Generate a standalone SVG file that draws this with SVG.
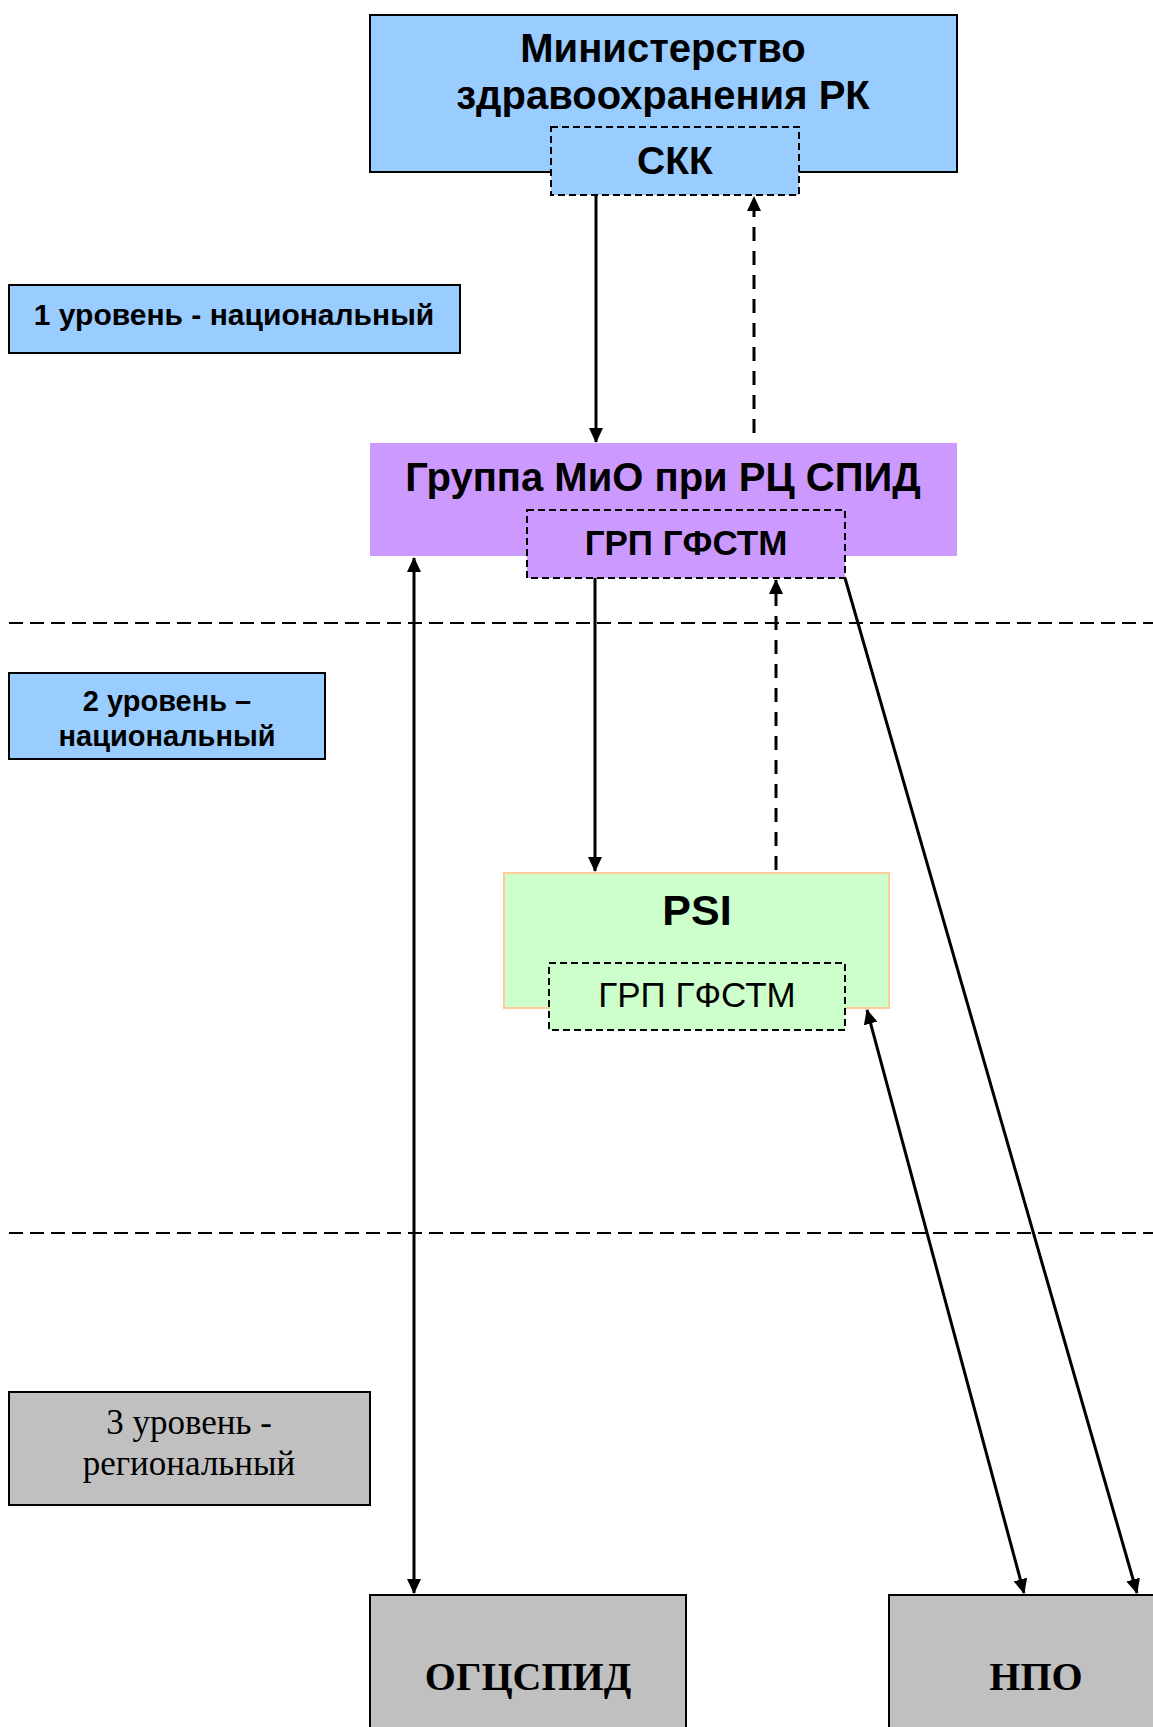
<svg xmlns="http://www.w3.org/2000/svg" width="1153" height="1727" viewBox="0 0 1153 1727">
<style>
.sans{font-family:"Liberation Sans",Arial,sans-serif;fill:#000;text-anchor:middle}
.b{font-weight:bold}
.serif{font-family:"Liberation Serif","Times New Roman",serif;fill:#000;text-anchor:middle}
.box{stroke:#000;stroke-width:2}
.dbox{stroke:#000;stroke-width:2;stroke-dasharray:7 4}
.conn{stroke:#000;stroke-width:3;fill:none}
.dconn{stroke:#000;stroke-width:3;fill:none;stroke-dasharray:14 10}
.level{stroke:#000;stroke-width:2;stroke-dasharray:14 7}
</style>
<defs>
<marker id="ah" markerWidth="15" markerHeight="14" refX="14" refY="7" orient="auto" markerUnits="userSpaceOnUse" viewBox="0 0 15 14">
<path d="M0,0 L15,7 L0,14 Z" fill="#000"/>
</marker>
<marker id="ahs" markerWidth="15" markerHeight="14" refX="1" refY="7" orient="auto" markerUnits="userSpaceOnUse" viewBox="0 0 15 14">
<path d="M15,0 L0,7 L15,14 Z" fill="#000"/>
</marker>
</defs>
<rect width="1153" height="1727" fill="#fff"/>
<g id="level-lines">
<line class="level" x1="9" y1="623" x2="1153" y2="623"/>
<line class="level" x1="9" y1="1233" x2="1153" y2="1233"/>
</g>
<g id="ministry">
<rect class="box" x="370" y="15" width="587" height="157" fill="#99CCFF"/>
<text class="sans b" x="663" y="62" font-size="40">Министерство</text>
<text class="sans b" x="663" y="109" font-size="40">здравоохранения РК</text>
</g>
<g id="skk">
<rect class="dbox" x="551" y="127" width="248" height="68" fill="#99CCFF"/>
<text class="sans b" x="675" y="174" font-size="39">СКК</text>
</g>
<g id="level1">
<rect class="box" x="9" y="285" width="451" height="68" fill="#99CCFF"/>
<text class="sans b" x="234" y="325" font-size="30">1 уровень - национальный</text>
</g>
<g id="group-mio">
<rect x="370" y="443" width="587" height="113" fill="#CC99FF"/>
<text class="sans b" x="663" y="491" font-size="40">Группа МиО при РЦ СПИД</text>
</g>
<g id="grp-gfstm-1">
<rect class="dbox" x="527" y="510" width="318" height="68" fill="#CC99FF"/>
<text class="sans b" x="686" y="555" font-size="35">ГРП ГФСТМ</text>
</g>
<g id="level2">
<rect class="box" x="9" y="673" width="316" height="86" fill="#99CCFF"/>
<text class="sans b" x="167" y="711" font-size="29">2 уровень –</text>
<text class="sans b" x="167" y="746" font-size="29">национальный</text>
</g>
<g id="psi">
<rect x="504" y="873" width="385" height="135" fill="#CCFFCC" stroke="#FFCC99" stroke-width="2"/>
<text class="sans b" x="697" y="925" font-size="43">PSI</text>
</g>
<g id="grp-gfstm-2">
<rect class="dbox" x="549" y="963" width="296" height="67" fill="#CCFFCC"/>
<text class="sans" x="697" y="1007" font-size="35">ГРП ГФСТМ</text>
</g>
<g id="level3">
<rect class="box" x="9" y="1392" width="361" height="113" fill="#C0C0C0"/>
<text class="serif" x="189" y="1434" font-size="35">3 уровень -</text>
<text class="serif" x="189" y="1475" font-size="35">региональный</text>
</g>
<g id="ogcspid">
<rect class="box" x="370" y="1595" width="316" height="140" fill="#C0C0C0"/>
<text class="serif b" x="528" y="1690" font-size="40">ОГЦСПИД</text>
</g>
<g id="npo">
<rect class="box" x="889" y="1595" width="280" height="140" fill="#C0C0C0"/>
<text class="serif b" x="1036" y="1690" font-size="40">НПО</text>
</g>
<g id="connectors">
<line class="conn" x1="596" y1="195" x2="596" y2="442" marker-end="url(#ah)"/>
<line class="dconn" x1="754" y1="433" x2="754" y2="197" marker-end="url(#ah)"/>
<line class="conn" x1="595" y1="578" x2="595" y2="871" marker-end="url(#ah)"/>
<line class="dconn" x1="776" y1="870" x2="776" y2="580" marker-end="url(#ah)"/>
<line class="conn" x1="414" y1="558" x2="414" y2="1593" marker-start="url(#ahs)" marker-end="url(#ah)"/>
<line class="conn" x1="845" y1="578" x2="1137" y2="1593" marker-end="url(#ah)"/>
<line class="conn" x1="867" y1="1010" x2="1024" y2="1593" marker-start="url(#ahs)" marker-end="url(#ah)"/>
</g>
</svg>
